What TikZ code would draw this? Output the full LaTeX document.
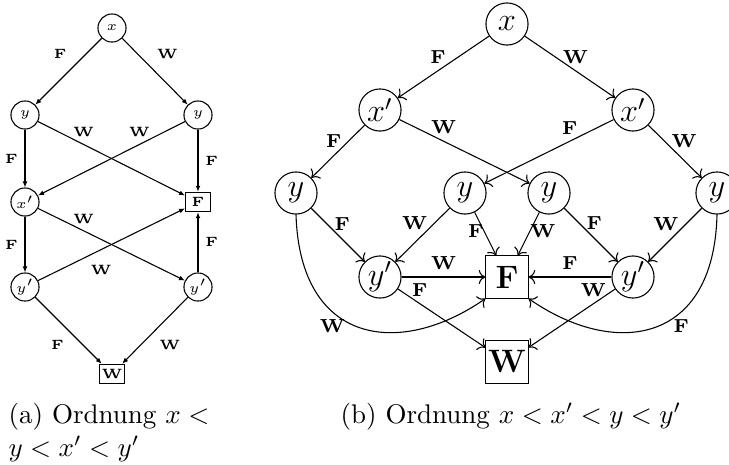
\documentclass[tikz,border=0pt]{standalone}
\usetikzlibrary{arrows.meta}
\begin{document}
\begin{tikzpicture}[
        x=0.3704pt, y=-0.3704pt,
        vsmall/.style={circle, draw, minimum size=10.4pt, inner sep=0pt, font=\tiny},
        tsmall/.style={rectangle, draw, minimum width=9.2pt, minimum height=7.2pt, inner sep=0pt, font=\tiny\bfseries},
        vbig/.style={circle, draw, minimum size=15.6pt, inner sep=0pt, font=\large},
        tbig/.style={rectangle, draw, minimum size=15.6pt, inner sep=0pt, font=\large\bfseries},
        lsmall/.style={inner sep=2.5pt, font=\tiny\bfseries},
        lbig/.style={inner sep=2.5pt, font=\scriptsize\bfseries},
        arrsmall/.style={-{Latex[length=2.2pt,width=1.8pt]}},
        arrbig/.style={->}
    ]
    \useasboundingbox (0,0) rectangle (729,464);

    % (a) Ordnung x < y < x' < y'
    \node[vsmall] (ax) at (112,28) {$x$};
    \node[vsmall] (ay1) at (25,115) {$y$};
    \node[vsmall] (ay2) at (198,115) {$y$};
    \node[vsmall] (axp) at (25,202) {$x'$};
    \node[tsmall] (aF) at (198,202) {F};
    \node[vsmall] (ayp1) at (25,287) {$y'$};
    \node[vsmall] (ayp2) at (198,287) {$y'$};
    \node[tsmall] (aW) at (112,374) {W};

    \draw[arrsmall] (ax) -- node[lsmall, pos=0.42, above left] {F} (ay1);
    \draw[arrsmall] (ax) -- node[lsmall, pos=0.42, above right] {W} (ay2);
    \draw[arrsmall] (ay1) -- node[lsmall, left] {F} (axp);
    \draw[arrsmall] (ay1) -- node[lsmall, pos=0.31, above] {W} (aF);
    \draw[arrsmall] (ay2) -- node[lsmall, pos=0.31, above] {W} (axp);
    \draw[arrsmall] (ay2) -- node[lsmall, right] {F} (aF);
    \draw[arrsmall] (axp) -- node[lsmall, left] {F} (ayp1);
    \draw[arrsmall] (axp) -- node[lsmall, pos=0.31, above] {W} (ayp2);
    \draw[arrsmall] (ayp1) -- node[lsmall, pos=0.31, below right] {W} (aF);
    \draw[arrsmall] (ayp2) -- node[lsmall, right] {F} (aF);
    \draw[arrsmall] (ayp1) -- node[lsmall, pos=0.54, below left] {F} (aW);
    \draw[arrsmall] (ayp2) -- node[lsmall, pos=0.54, below right] {W} (aW);

    % (b) Ordnung x < x' < y < y'
    \node[vbig] (x) at (507,24) {$x$};
    \node[vbig] (xp1) at (380,110) {$x'$};
    \node[vbig] (xp2) at (633,110) {$x'$};
    \node[vbig] (y1) at (296,193) {$y$};
    \node[vbig] (y2) at (465,193) {$y$};
    \node[vbig] (y3) at (549,193) {$y$};
    \node[vbig] (y4) at (717,193) {$y$};
    \node[vbig] (yp1) at (380,277) {$y'$};
    \node[vbig] (yp2) at (633,277) {$y'$};
    \node[tbig] (F) at (507,277) {F};
    \node[tbig] (W) at (507,362) {W};

    \draw[arrbig] (x) -- node[lbig, pos=0.56, above] {F} (xp1);
    \draw[arrbig] (x) -- node[lbig, pos=0.56, above] {W} (xp2);
    \draw[arrbig] (xp1) -- node[lbig, pos=0.3, left] {F} (y1);
    \draw[arrbig] (xp1) -- node[lbig, pos=0.34, above] {W} (y3);
    \draw[arrbig] (xp2) -- node[lbig, pos=0.34, above] {F} (y2);
    \draw[arrbig] (xp2) -- node[lbig, pos=0.3, right] {W} (y4);
    \draw[arrbig] (y1) -- node[lbig, pos=0.3, right] {F} (yp1);
    \draw[arrbig] (y2) -- node[lbig, pos=0.28, left] {W} (yp1);
    \draw[arrbig] (y2) -- node[lbig, pos=0.75, above left] {F} (F);
    \draw[arrbig] (y3) -- node[lbig, pos=0.75, above right] {W} (F);
    \draw[arrbig] (y3) -- node[lbig, pos=0.28, right] {F} (yp2);
    \draw[arrbig] (y4) -- node[lbig, pos=0.3, left] {W} (yp2);
    \draw[arrbig] (yp1) -- node[lbig, above] {W} (F);
    \draw[arrbig] (yp2) -- node[lbig, above] {F} (F);
    \draw[arrbig] (yp1) -- node[lbig, pos=0.25, above] {F} (W);
    \draw[arrbig] (yp2) -- node[lbig, pos=0.25, above] {W} (W);
    \draw[arrbig] (y1.south) .. controls (300,345) and (400,358) .. node[lbig, pos=0.36, below] {W} (F.south west);
    \draw[arrbig] (y4.south) .. controls (714,345) and (614,358) .. node[lbig, pos=0.36, below] {F} (F.south east);

    % captions
    \node[anchor=north west, inner sep=0pt, align=left] (capa) at (8,403) {(a) Ordnung $x <$\\$y < x' < y'$};
    \node[anchor=base west, inner sep=0pt] (capb) at (340,423) {(b) Ordnung $x < x' < y < y'$};
\end{tikzpicture}
\end{document}
